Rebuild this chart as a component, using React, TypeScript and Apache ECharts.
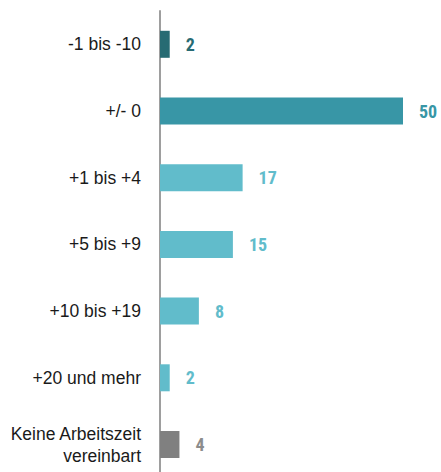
import React, { useEffect, useRef } from "react";
import * as echarts from "echarts";

const categories = [
  "-1 bis -10",
  "+/- 0",
  "+1 bis +4",
  "+5 bis +9",
  "+10 bis +19",
  "+20 und mehr",
  "Keine Arbeitszeit\nvereinbart",
];
const values = [2, 50, 17, 15, 8, 2, 4];
const barColors = ["#276b73", "#3896a6", "#61bccb", "#61bccb", "#61bccb", "#61bccb", "#808080"];
const labelColors = ["#276b73", "#3896a6", "#61bccb", "#61bccb", "#61bccb", "#61bccb", "#8c8c8c"];

export default function App() {
  const ref = useRef<HTMLDivElement>(null);
  useEffect(() => {
    if (!ref.current) return;
    const chart = echarts.init(ref.current, undefined, { renderer: "svg" });
    chart.setOption({
      animation: false,
      backgroundColor: "#ffffff",
      grid: { left: 160, top: 10.95, width: 267.3, height: 466.9, containLabel: false },
      xAxis: {
        type: "value",
        min: 0,
        max: 55,
        show: false,
      },
      yAxis: {
        type: "category",
        inverse: true,
        data: categories,
        axisLine: { show: true, lineStyle: { color: "#9e9e9e", width: 2 } },
        axisTick: { show: false },
        splitLine: { show: false },
        axisLabel: {
          margin: 19,
          color: "#1a1a1a",
          fontSize: 17.5,
          fontFamily: "Liberation Sans, Arial, sans-serif",
          lineHeight: 22,
          align: "right",
        },
      },
      series: [
        {
          type: "bar",
          barWidth: 27,
          data: values.map((v, i) => ({
            value: v,
            itemStyle: { color: barColors[i] },
            label: { color: labelColors[i] },
          })),
          label: {
            show: true,
            position: "right",
            distance: 16,
            fontSize: 18,
            fontWeight: "bold",
            fontFamily: "Roboto Condensed, Arial Narrow, sans-serif",
          },
        },
      ],
    });
    return () => chart.dispose();
  }, []);
  return (
    <div style={{ position: "fixed", left: 0, top: 0, width: 441, height: 472, overflow: "hidden", background: "#fff" }}>
      <div ref={ref} style={{ width: 441, height: 484 }} />
    </div>
  );
}
